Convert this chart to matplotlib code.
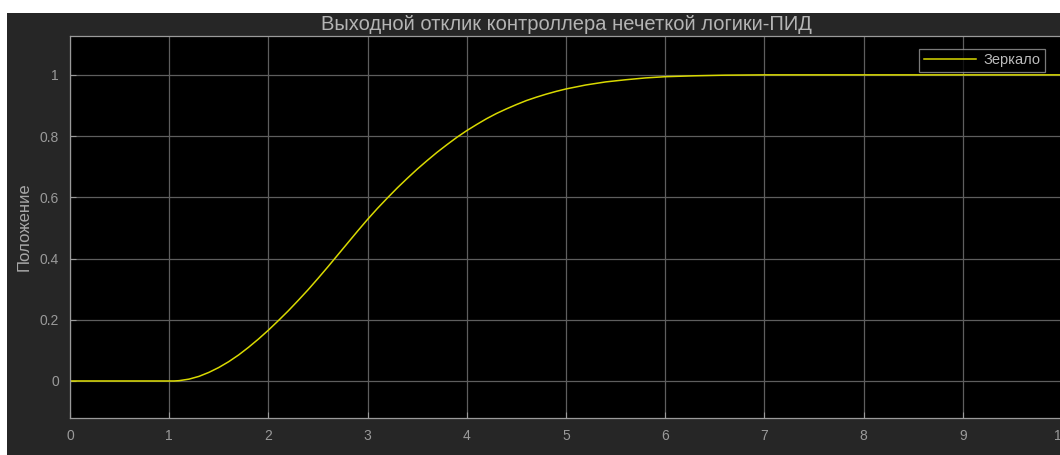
import numpy as np
import matplotlib.pyplot as plt
from matplotlib.patches import Rectangle

# time (s) and mirror position
t = [0, 1.0, 1.05, 1.1, 1.2, 1.3, 1.4, 1.5, 1.6, 1.7, 1.8, 1.9,
     2.0, 2.1, 2.2, 2.3, 2.4, 2.5, 2.6, 2.7, 2.8, 2.9,
     3.0, 3.1, 3.2, 3.3, 3.4, 3.5, 3.6, 3.7, 3.8, 3.9,
     4.0, 4.1, 4.2, 4.3, 4.4, 4.5, 4.6, 4.7, 4.8, 4.9,
     5.0, 5.2, 5.4, 5.6, 5.8, 6.0, 6.3, 6.6, 7.0, 8.0, 9.0, 10.0]
pos = [0, 0, 0, 0.001, 0.006, 0.015, 0.028, 0.044, 0.063, 0.085, 0.110, 0.137,
       0.166, 0.197, 0.229, 0.263, 0.298, 0.335, 0.373, 0.412, 0.451, 0.490,
       0.528, 0.564, 0.598, 0.631, 0.662, 0.692, 0.720, 0.747, 0.772, 0.796,
       0.818, 0.838, 0.857, 0.874, 0.889, 0.903, 0.916, 0.927, 0.937, 0.946,
       0.954, 0.967, 0.977, 0.984, 0.990, 0.994, 0.997, 0.999, 1.0, 1.0, 1.0, 1.0]

xticks = list(range(0, 11))
yticks = [0, 0.2, 0.4, 0.6, 0.8, 1]
ytick_labels = ['0', '0.2', '0.4', '0.6', '0.8', '1']

plt.rcParams['font.family'] = ['Liberation Sans', 'DejaVu Sans']

fig = plt.figure(figsize=(10.6, 4.55), dpi=100)
fig.patch.set_facecolor('white')
fig.patches.append(Rectangle((0.0066, 0), 1, 0.9714, transform=fig.transFigure,
                             facecolor='#262626', edgecolor='none', zorder=-1))

ax = fig.add_axes([0.066, 0.0813, 0.936, 0.8396])
ax.set_facecolor('black')
ax.plot(t, pos, color='#d9d900', lw=1.1, label='Зеркало')

ax.set_xlim(0, 10)
ax.set_ylim(-0.121, 1.127)
ax.set_xticks(xticks)
ax.set_yticks(yticks)
ax.set_yticklabels(ytick_labels)
ax.grid(True, color='#5e5e5e', lw=0.9)
ax.tick_params(direction='in', colors='#9a9a9a', labelcolor='#9a9a9a',
               labelsize=10, length=4, pad=8)
for s in ax.spines.values():
    s.set_color('#9a9a9a')
    s.set_linewidth(0.9)

ax.set_ylabel('Положение', color='#a8a8a8', fontsize=12, labelpad=6)
ax.set_title('Выходной отклик контроллера нечеткой логики-ПИД', color='#b4b4b4',
             fontsize=14.5, pad=4)

leg = ax.legend(loc='upper right', bbox_to_anchor=(0.99, 0.985), fontsize=10.5,
                frameon=True, fancybox=False, handlelength=3.6,
                handletextpad=0.5, borderpad=0.3, labelcolor='#bcbcbc')
leg.get_frame().set_facecolor('black')
leg.get_frame().set_edgecolor('#9a9a9a')
leg.get_frame().set_linewidth(0.9)

fig.savefig('out.png', dpi=100, facecolor=fig.get_facecolor())
